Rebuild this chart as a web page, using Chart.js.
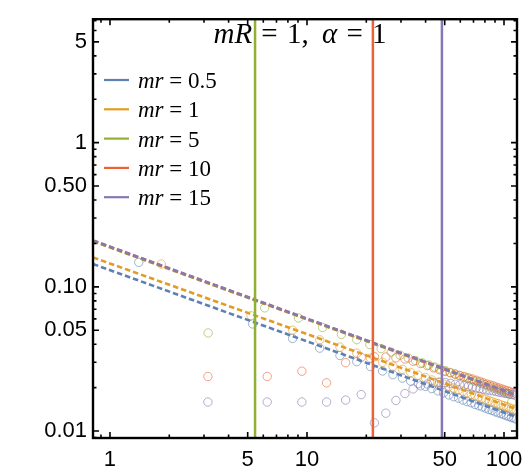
<!DOCTYPE html>
<html><head><meta charset="utf-8">
<script src="https://cdn.jsdelivr.net/npm/chart.js@4"></script>
<style>html,body{margin:0;padding:0;background:#fff}#wrap{width:532px;height:473px}</style>
</head><body><div id="wrap"><canvas id="c"></canvas></div>
<script>
// ---- text ----
const titleParts = [["mR","i",2],[" = ","n",2],["1,","n",3],[" ","n",3],["α","i",2],[" = ","n",2],["1","n",0]];
const seriesNames = ["0.5","1","5","10","15"];
const colors = ["#5E81B5","#E19C24","#8FB032","#EB6235","#8778B3"];

// ---- axes ----
const xRange = [0.82, 116.4];
const yRange = [0.00895, 7.18];
const xTickValues = [1, 5, 10, 50, 100];
const xTickText = ["1", "5", "10", "50", "100"];
const yTickValues = [0.01, 0.05, 0.1, 0.5, 1, 5];
const yTickText = ["0.01", "0.05", "0.10", "0.50", "1", "5"];

// ---- dashed reference lines (value at left and right edge) ----
const lineX = [0.82, 116.4];
const blueLine = [0.144, 0.01247];
const orangeLine = [0.160, 0.01415];
const greenLine = [0.207, 0.0175];
const redLine = [0.209, 0.0176];
const purpleLine = [0.210, 0.0177];

// ---- vertical markers (green, red, purple) ----
const vlineX = [5.45, 21.6, 48.4];

// ---- circle data ----
const blueX = [1.4, 5.3, 8.45, 11.6, 14.7, 17.9, 21.0, 24.2, 27.3, 30.5, 33.6, 36.7, 39.9, 43.0, 46.2, 49.3, 52.5, 55.6, 58.8, 61.9, 65.0, 68.2, 71.3, 74.5, 77.6, 80.8, 83.9, 87.0, 90.2, 93.3, 96.5, 99.6, 102.8, 105.9, 109.1, 112.2, 115.3];
const blueY = [0.148, 0.0553, 0.0439, 0.0376, 0.0334, 0.0303, 0.0280, 0.0261, 0.0246, 0.0233, 0.0222, 0.0213, 0.0204, 0.0197, 0.0190, 0.0184, 0.0178, 0.0173, 0.0169, 0.0164, 0.0160, 0.0157, 0.0153, 0.0150, 0.0147, 0.0144, 0.0141, 0.0139, 0.0136, 0.0134, 0.0132, 0.0130, 0.0128, 0.0126, 0.0124, 0.0123, 0.0121];
const orangeX = [1.82, 5.2, 8.45, 11.6, 14.7, 17.9, 21.0, 24.2, 27.3, 30.5, 33.6, 36.7, 39.9, 43.0, 46.2, 49.3, 52.5, 55.6, 58.8, 61.9, 65.0, 68.2, 71.3, 74.5, 77.6, 80.8, 83.9, 87.0, 90.2, 93.3, 96.5, 99.6, 102.8, 105.9, 109.1, 112.2, 115.3];
const orangeY = [0.144, 0.0630, 0.0501, 0.0429, 0.0382, 0.0347, 0.0321, 0.0300, 0.0282, 0.0268, 0.0255, 0.0244, 0.0235, 0.0226, 0.0218, 0.0212, 0.0205, 0.0199, 0.0194, 0.0189, 0.0185, 0.0180, 0.0177, 0.0173, 0.0169, 0.0166, 0.0163, 0.0160, 0.0157, 0.0155, 0.0152, 0.0150, 0.0148, 0.0146, 0.0143, 0.0141, 0.0140];
const greenX = [3.15, 6.1, 9.05, 12.0, 14.95, 17.9, 20.85, 23.8, 26.75, 29.7, 32.65, 35.6, 38.55, 41.5, 44.45, 47.4, 50.35, 53.3, 56.25, 59.2, 62.15, 65.1, 68.05, 71.0, 73.95, 76.9, 79.85, 82.8, 85.75, 88.7, 91.65, 94.6, 97.55, 100.5, 103.45, 106.4, 109.35];
const greenY = [0.0479, 0.0715, 0.0608, 0.0523, 0.0468, 0.0430, 0.0398, 0.0373, 0.0353, 0.0336, 0.0321, 0.0308, 0.0297, 0.0287, 0.0278, 0.0270, 0.0262, 0.0255, 0.0249, 0.0243, 0.0237, 0.0232, 0.0227, 0.0222, 0.0218, 0.0214, 0.0210, 0.0206, 0.0203, 0.0199, 0.0196, 0.0193, 0.0190, 0.0187, 0.0184, 0.0180, 0.0158];
const piX = [3.14, 6.28, 9.42, 12.57, 15.71, 18.85, 21.99, 25.13, 28.27, 31.42, 34.56, 37.70, 40.84, 43.98, 47.12, 50.27, 53.41, 56.55, 59.69, 62.83, 65.97, 69.12, 72.26, 75.40, 78.54, 81.68, 84.82, 87.96, 91.11, 94.25, 97.39, 100.53, 103.67, 106.81, 109.96, 113.10];
const redY = [0.0239, 0.0239, 0.0260, 0.0216, 0.0298, 0.0324, 0.0328, 0.0326, 0.0322, 0.0316, 0.0305, 0.0294, 0.0284, 0.0274, 0.0266, 0.0259, 0.0253, 0.0248, 0.0243, 0.0239, 0.0234, 0.0230, 0.0225, 0.0221, 0.0216, 0.0212, 0.0209, 0.0206, 0.0202, 0.0199, 0.0196, 0.0193, 0.0191, 0.0188, 0.0185, 0.0183];
const purpleY = [0.0159, 0.0159, 0.0159, 0.0159, 0.0164, 0.0179, 0.0114, 0.0133, 0.0163, 0.0182, 0.0196, 0.0206, 0.0212, 0.0216, 0.0218, 0.0217, 0.0214, 0.0211, 0.0209, 0.0206, 0.0204, 0.0201, 0.0199, 0.0197, 0.0195, 0.0193, 0.0191, 0.0190, 0.0188, 0.0186, 0.0185, 0.0183, 0.0182, 0.0181, 0.0179, 0.0178];

// ---- build datasets ----
const pts = (xs, ys) => xs.map((x, i) => ({x: x, y: ys[i]}));
function rgba(hex, a) {
  const n = parseInt(hex.slice(1), 16);
  return `rgba(${(n>>16)&255},${(n>>8)&255},${n&255},${a})`;
}
const circleSets = [[blueX, blueY], [orangeX, orangeY], [greenX, greenY], [piX, redY], [piX, purpleY]];
const lineSets = [blueLine, orangeLine, greenLine, redLine, purpleLine];
const datasets = [];
circleSets.forEach((s, i) => {
  datasets.push({
    data: pts(s[0], s[1]), showLine: false,
    pointRadius: 4.2, pointHoverRadius: 4.2, pointBorderWidth: 1,
    pointBorderColor: rgba(colors[i], 0.6), pointBackgroundColor: 'rgba(0,0,0,0)',
    order: 100 - i
  });
});
lineSets.forEach((l, i) => {
  datasets.push({
    data: pts(lineX, l), showLine: true, pointRadius: 0,
    borderColor: colors[i], borderWidth: 2.6, borderDash: [5.5, 3],
    order: 50 - i
  });
});
vlineX.forEach((vx, i) => {
  datasets.push({
    data: [{x: vx, y: yRange[0]}, {x: vx, y: yRange[1]}], showLine: true, pointRadius: 0,
    borderColor: colors[i + 2], borderWidth: 2.5, order: 10 - i
  });
});

function serif(style, size) {
  return (style === 'i' ? 'italic ' : '') + size + 'px "Liberation Serif", "Times New Roman", serif';
}
function drawRich(ctx, parts, x, y, size, center) {
  let total = 0;
  parts.forEach(p => { ctx.font = serif(p[1], size); total += ctx.measureText(p[0]).width + p[2]; });
  let cx = center ? x - total / 2 : x;
  ctx.textBaseline = 'alphabetic'; ctx.textAlign = 'left';
  parts.forEach(p => { ctx.font = serif(p[1], size); ctx.fillText(p[0], cx, y); cx += ctx.measureText(p[0]).width + p[2]; });
}
function tickVals(lo, hi) {
  const out = [];
  for (let e = Math.floor(Math.log10(lo)); e <= Math.ceil(Math.log10(hi)); e++)
    for (let k = 1; k < 10; k++) { const v = k * Math.pow(10, e); if (v >= lo && v <= hi) out.push(v); }
  return out;
}
const isMajor = (v, list) => list.some(t => Math.abs(t - v) / t < 1e-6);

const framePlugin = {
  id: 'frame',
  afterDraw(chart) {
    const ctx = chart.ctx, a = chart.chartArea, xs = chart.scales.x, ys = chart.scales.y;
    ctx.save();
    ctx.strokeStyle = '#000';
    ctx.lineWidth = 1.6;
    ctx.beginPath();
    tickVals(xRange[0], xRange[1]).forEach(v => {
      const L = isMajor(v, xTickValues) ? 6 : 3.5;
      const p = xs.getPixelForValue(v);
      ctx.moveTo(p, a.bottom); ctx.lineTo(p, a.bottom - L);
      ctx.moveTo(p, a.top); ctx.lineTo(p, a.top + L);
    });
    tickVals(yRange[0], yRange[1]).forEach(v => {
      const L = isMajor(v, yTickValues) ? 6 : 3.5;
      const p = ys.getPixelForValue(v);
      ctx.moveTo(a.left, p); ctx.lineTo(a.left + L, p);
      ctx.moveTo(a.right, p); ctx.lineTo(a.right - L, p);
    });
    ctx.stroke();
    ctx.lineWidth = 2.4;
    ctx.strokeRect(a.left, a.top, a.right - a.left, a.bottom - a.top);

    // title
    ctx.fillStyle = '#000';
    drawRich(ctx, titleParts, 300, 43, 29, true);

    // legend
    seriesNames.forEach((name, i) => {
      const yy = 80 + i * 29.3;
      ctx.strokeStyle = colors[i]; ctx.lineWidth = 2.2; ctx.setLineDash([]);
      ctx.beginPath(); ctx.moveTo(104, yy); ctx.lineTo(129, yy); ctx.stroke();
      ctx.fillStyle = '#000';
      drawRich(ctx, [["mr", "i", 0], [" = " + name, "n", 0]], 138, yy + 8, 23, false);
    });
    ctx.restore();
  }
};

new Chart(document.getElementById('c'), {
  type: 'scatter',
  data: {datasets: datasets},
  options: {
    responsive: true, maintainAspectRatio: false, animation: false,
    layout: {padding: {top: 14, right: 15, left: 0, bottom: 0}},
    plugins: {legend: {display: false}, tooltip: {enabled: false}},
    scales: {
      x: {
        type: 'logarithmic', min: xRange[0], max: xRange[1],
        border: {display: false}, grid: {display: false, drawTicks: false},
        afterBuildTicks: s => { s.ticks = xTickValues.map(v => ({value: v})); },
        afterFit: s => { s.height = 35; },
        ticks: {autoSkip: false, maxRotation: 0, minRotation: 0, padding: 9, color: '#000',
          font: {family: '"Liberation Sans", Arial, sans-serif', size: 22},
          callback: v => xTickText[xTickValues.findIndex(t => Math.abs(t - v) / t < 1e-6)]}
      },
      y: {
        type: 'logarithmic', min: yRange[0], max: yRange[1],
        border: {display: false}, grid: {display: false, drawTicks: false},
        afterBuildTicks: s => { s.ticks = yTickValues.map(v => ({value: v})); },
        afterFit: s => { s.width = 93; },
        ticks: {autoSkip: false, padding: 6, color: '#000',
          font: {family: '"Liberation Sans", Arial, sans-serif', size: 22},
          callback: v => yTickText[yTickValues.findIndex(t => Math.abs(t - v) / t < 1e-6)]}
      }
    }
  },
  plugins: [framePlugin]
});
</script>
</body></html>
